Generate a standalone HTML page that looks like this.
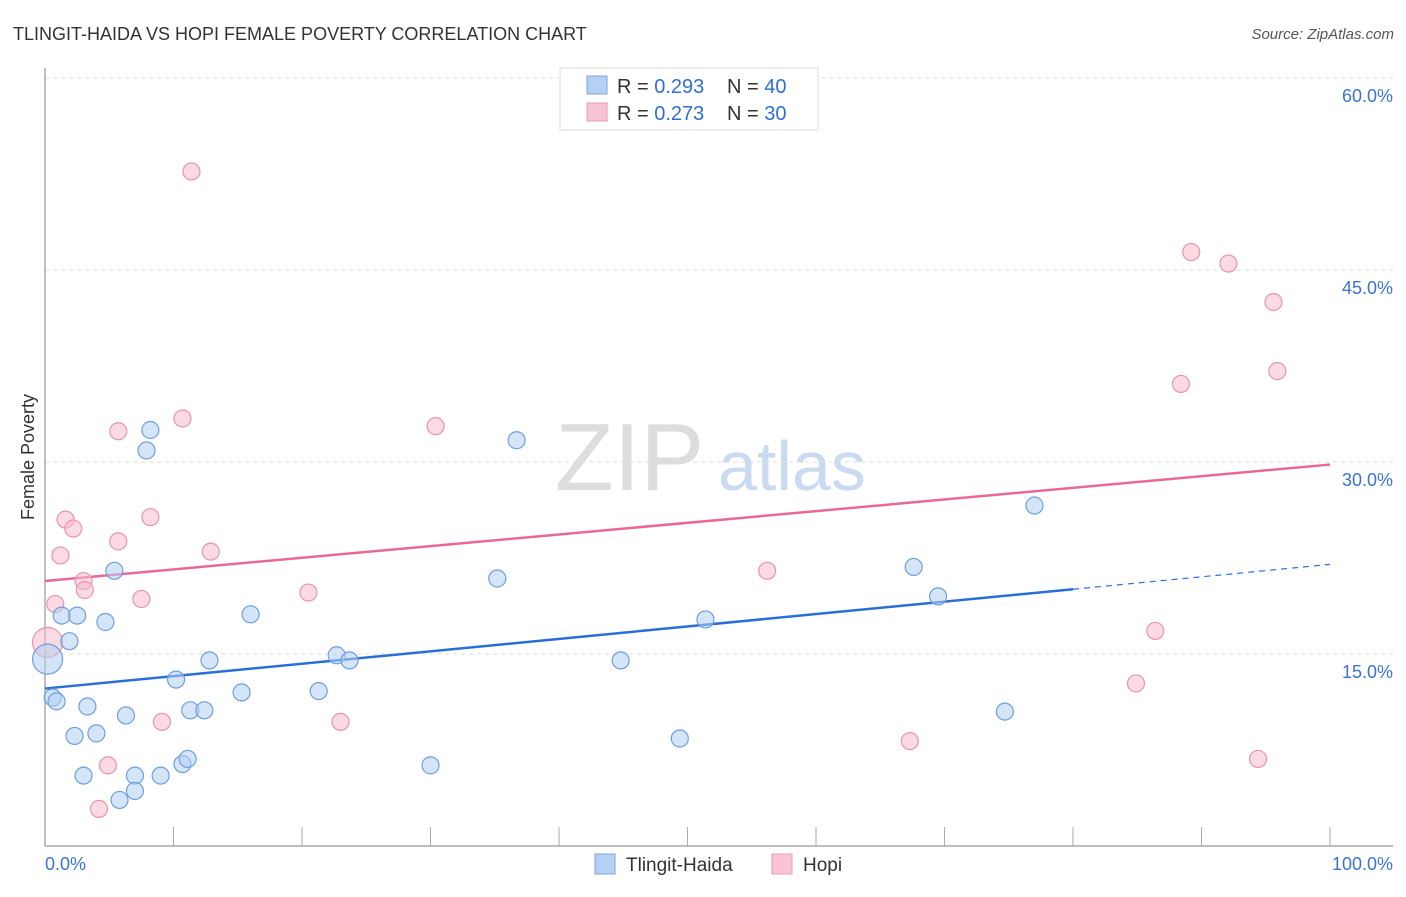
<!DOCTYPE html>
<html><head><meta charset="utf-8"><style>
body{margin:0;background:#fff;font-family:"Liberation Sans",sans-serif;}
svg text{font-family:"Liberation Sans",sans-serif;}
</style></head><body>
<svg id="chart" width="1406" height="892" xmlns="http://www.w3.org/2000/svg">
<text x="13" y="40" font-size="18" fill="#333">TLINGIT-HAIDA VS HOPI FEMALE POVERTY CORRELATION CHART</text>
<text x="1394" y="39" font-size="15" fill="#555" font-style="italic" text-anchor="end">Source: ZipAtlas.com</text>
<text transform="translate(34,457) rotate(-90)" font-size="18" fill="#333" text-anchor="middle">Female Poverty</text>
<g><text x="555" y="490" font-size="96" fill="#ddd" font-family="Liberation Serif">ZIP</text><text x="718" y="490" font-size="70" fill="#c9daf2">atlas</text></g>
<g id="grid"></g><g id="axes"></g><g id="trends"></g><g id="points"></g>
<g>
<rect x="560" y="68" width="258" height="62" fill="#fff" stroke="#ddd"/>
<rect x="587" y="76" width="20" height="18" fill="#b5d0f5" stroke="#7ea6dc"/>
<text x="617" y="93" font-size="20" fill="#333">R = <tspan fill="#2e6fd4">0.293</tspan></text>
<text x="727" y="93" font-size="20" fill="#333">N = <tspan fill="#2e6fd4">40</tspan></text>
<rect x="587" y="103" width="20" height="18" fill="#f9c5d4" stroke="#e99ab2"/>
<text x="617" y="120" font-size="20" fill="#333">R = <tspan fill="#2e6fd4">0.273</tspan></text>
<text x="727" y="120" font-size="20" fill="#333">N = <tspan fill="#2e6fd4">30</tspan></text>
</g>
<g>
<rect x="595" y="854" width="20" height="20" fill="#b5d0f5" stroke="#7ea6dc"/>
<text x="626" y="871" font-size="19" fill="#333">Tlingit-Haida</text>
<rect x="772" y="854" width="20" height="20" fill="#f9c5d4" stroke="#e99ab2"/>
<text x="803" y="871" font-size="19" fill="#333">Hopi</text>
</g>
</svg>
<script>
const blueX=[0.2,0.6,0.9,1.3,1.9,2.5,4.7,5.4,8.2,7.9,3.3,2.3,4.0,3.0,6.3,7.0,7.0,5.8,9.0,10.2,10.7,11.1,11.3,12.4,12.8,15.3,16.0,21.3,22.7,23.7,30.0,35.2,36.7,44.8,49.4,51.4,67.6,69.5,74.7,77.0];
const blueY=[14.6,11.6,11.3,18.0,16.0,18.0,17.5,21.5,32.5,30.9,10.9,8.6,8.8,5.5,10.2,5.5,4.3,3.6,5.5,13.0,6.4,6.8,10.6,10.6,14.5,12.0,18.1,12.1,14.9,14.5,6.3,20.9,31.7,14.5,8.4,17.7,21.8,19.5,10.5,26.6];
const pinkX=[0.2,0.8,1.2,1.6,2.2,3.0,3.1,5.7,5.7,7.5,8.2,4.9,4.2,9.1,10.7,11.4,12.9,20.5,23.0,30.4,56.2,67.3,84.9,86.4,88.4,89.2,92.1,95.6,95.9,94.4];
const pinkY=[15.9,18.9,22.7,25.5,24.8,20.7,20.0,32.4,23.8,19.3,25.7,6.3,2.9,9.7,33.4,52.7,23.0,19.8,9.7,32.8,21.5,8.2,12.7,16.8,36.1,46.4,45.5,42.5,37.1,6.8];
const blueTrend=[12.3,0.097];
const pinkTrend=[20.7,0.091];
const yTicks=[15,30,45,60];
const yTickLabels=["15.0%","30.0%","45.0%","60.0%"];
const xTicks=[0,10,20,30,40,50,60,70,80,90,100];
const NS="http://www.w3.org/2000/svg";
const X=v=>45+v*12.85, Y=v=>846-v*12.8;
function mk(tag,attrs,parent){const e=document.createElementNS(NS,tag);for(const k in attrs)e.setAttribute(k,attrs[k]);document.getElementById(parent).appendChild(e);return e;}
yTicks.forEach((t,i)=>{
 const g=mk('line',{x1:45,x2:1393,y1:Y(t),y2:Y(t),stroke:'#ddd','stroke-dasharray':'4,4'},'grid');
 
 
 const l=mk('text',{x:1393,y:Y(t)+24,'font-size':18,fill:'#3b73d1','text-anchor':'end'},'grid');
 l.textContent=yTickLabels[i];
 
 
});
const ax=mk('line',{x1:45,x2:45,y1:68,y2:846,stroke:'#aaa','stroke-width':1.5},'axes');


const bx=mk('line',{x1:45,x2:1393,y1:846,y2:846,stroke:'#aaa','stroke-width':1.5},'axes');


xTicks.forEach(t=>{const k=mk('line',{x1:X(t),x2:X(t),y1:827,y2:846,stroke:'#aaa'},'axes');
 
 });
const xl0=mk('text',{x:45,y:870,'font-size':18,fill:'#3b73d1'},'axes');xl0.textContent='0.0%';


const xl1=mk('text',{x:1393,y:870,'font-size':18,fill:'#3b73d1','text-anchor':'end'},'axes');xl1.textContent='100.0%';


function pts(xs,ys,fill,stroke,name){xs.forEach((x,i)=>{const big=(x<0.5);
 const c=mk('circle',{cx:X(x),cy:Y(ys[i]),r:big?15:8.5,fill:fill,'fill-opacity':0.55,stroke:stroke,'stroke-width':1.2},'points');
 
 });}
pts(pinkX,pinkY,'#f8bccd','#e894ae','hopi-point');
pts(blueX,blueY,'#b3cff3','#6e9fdc','tlingit-haida-point');
const b1=mk('line',{x1:X(0),y1:Y(blueTrend[0]),x2:X(80),y2:Y(blueTrend[0]+blueTrend[1]*80),stroke:'#2a6fd6','stroke-width':2.5},'trends');


const b2=mk('line',{x1:X(80),y1:Y(blueTrend[0]+blueTrend[1]*80),x2:X(100),y2:Y(blueTrend[0]+blueTrend[1]*100),stroke:'#2a6fd6','stroke-width':1.2,'stroke-dasharray':'6,5'},'trends');


const p1=mk('line',{x1:X(0),y1:Y(pinkTrend[0]),x2:X(100),y2:Y(pinkTrend[0]+pinkTrend[1]*100),stroke:'#e8689a','stroke-width':2.5},'trends');


</script>
</body></html>
